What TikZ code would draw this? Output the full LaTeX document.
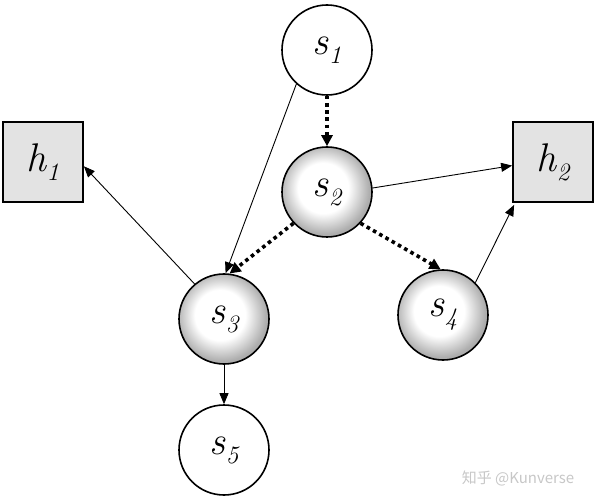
\documentclass[tikz,border=0pt]{standalone}
\usepackage{fontspec}
\newfontfamily\cjk{Noto Sans CJK SC}
\usetikzlibrary{arrows.meta}
\pgfdeclareradialshading{bubble}{\pgfpoint{-3bp}{3bp}}{color(0bp)=(white); color(14bp)=(white); color(25bp)=(black!32); color(50bp)=(black!32)}
\newcommand{\lab}[2]{\itshape\fontsize{40}{40}\selectfont #1\raisebox{-9pt}{\fontsize{25}{25}\selectfont #2}}
\begin{document}
\begin{tikzpicture}[x=1pt,y=-1pt,
    plain/.style={circle,draw,line width=1.6pt,minimum size=90pt,inner sep=0pt,fill=white},
    ball/.style={plain,shading=bubble},
    hid/.style={rectangle,draw,line width=1.8pt,minimum size=80pt,inner sep=0pt,fill=black!11},
    thin/.style={line width=0.9pt,-{Triangle[length=11pt,width=9pt]}},
    dots/.style={line width=3.6pt,dash pattern=on 3.6pt off 3.6pt,-{Triangle[length=11pt,width=11pt]}}]
  \useasboundingbox (0,0) rectangle (599,502);
  \node[plain] (s1) at (327,50) {\lab{s}{1}};
  \node[ball] (s2) at (327,192) {\lab{s}{2}};
  \node[ball] (s3) at (224,319) {\lab{s}{3}};
  \node[ball] (s4) at (443,315) {\lab{s}{4}};
  \node[plain] (s5) at (224,450) {\lab{s}{5}};
  \node[hid] (h1) at (43,162) {\lab{h}{1}};
  \node[hid] (h2) at (553,162) {\lab{h}{2}};
  % edges
  \draw[dots] (s1.south) -- (s2.north);
  \draw[dots] (s2.223) -- (s3.83);
  \draw[dots] (s2.-43) -- (s4.93);
  \draw[thin] (s1.228) -- (s3.88);
  \draw[thin] (s2.5) -- (h2.185);
  \draw[thin] (s4.45) -- ([shift={(2pt,-2pt)}]h2.south west);
  \draw[thin] (s3.130) -- (h1.-6);
  \draw[thin] (s3.south) -- (s5.north);
  \node[text=black!22,font=\cjk\fontsize{15}{15}\selectfont] (mark) at (518,478) {知乎 @Kunverse};
\end{tikzpicture}
\end{document}
